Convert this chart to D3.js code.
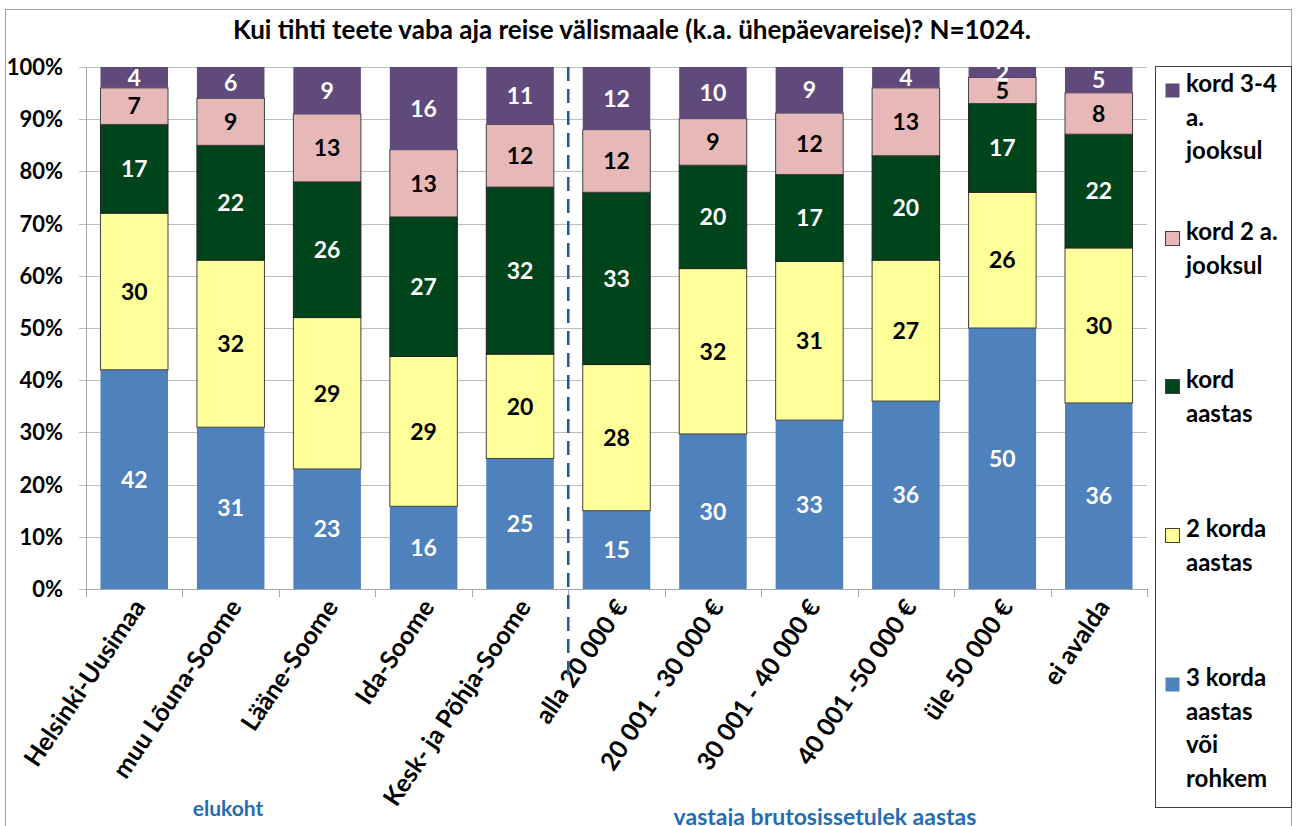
<!DOCTYPE html>
<html>
<head>
<meta charset="utf-8">
<script src="https://cdn.jsdelivr.net/npm/d3@7"></script>
<style>
  body { margin: 0; background: #fff; }
  text { font-family: Lato, "Open Sans", sans-serif; font-weight: bold; }
</style>
</head>
<body>
<div id="chart"></div>
<script>
// categories (x axis)
var categories = ["Helsinki-Uusimaa", "muu Lõuna-Soome", "Lääne-Soome", "Ida-Soome", "Kesk- ja Põhja-Soome",
  "alla 20 000 €", "20 001 - 30 000 €", "30 001 - 40 000 €", "40 001 -50 000 €", "üle 50 000 €", "ei avalda"];

// series, bottom to top
var seriesNames = ["3 korda aastas või rohkem", "2 korda aastas", "kord aastas", "kord 2 a. jooksul", "kord 3-4 a. jooksul"];
var kolmKorda = [42, 31, 23, 16, 25, 15, 30, 33, 36, 50, 36];
var kaksKorda = [30, 32, 29, 29, 20, 28, 32, 31, 27, 26, 30];
var kordAastas = [17, 22, 26, 27, 32, 33, 20, 17, 20, 17, 22];
var kord2a = [7, 9, 13, 13, 12, 12, 9, 12, 13, 5, 8];
var kord34a = [4, 6, 9, 16, 11, 12, 10, 9, 4, 2, 5];

var yTicks = [0, 0.1, 0.2, 0.3, 0.4, 0.5, 0.6, 0.7, 0.8, 0.9, 1];
var groupLabels = ["elukoht", "vastaja brutosissetulek aastas"];

var title = "Kui tihti teete vaba aja reise välismaale (k.a. ühepäevareise)? N=1024.";

var colors = ["#4F81BD", "#FFFF99", "#00441B", "#E6B9B8", "#604A7B"];
var strokes = ["none", "#404040", "#202020", "#404040", "none"];
var labelColors = ["#fff", "#000", "#fff", "#000", "#fff"];
var legendLines = [["kord 3-4", "a.", "jooksul"], ["kord 2 a.", "jooksul"], ["kord", "aastas"], ["2 korda", "aastas"], ["3 korda", "aastas", "või", "rohkem"]];

var svgWidth = 1297, svgHeight = 826;
var margin = {top: 67, right: 150, bottom: 237, left: 86};
var width = svgWidth - margin.left - margin.right;
var height = svgHeight - margin.top - margin.bottom;

var svg = d3.select("#chart").append("svg")
  .attr("width", svgWidth)
  .attr("height", svgHeight);

// outer border
svg.append("rect")
  .attr("x", 5.5).attr("y", 9.5)
  .attr("width", 1286).attr("height", 830)
  .attr("fill", "none")
  .attr("stroke", "#a0a0a0");

svg.append("text")
  .attr("x", 632).attr("y", 39)
  .attr("text-anchor", "middle")
  .style("font-size", "26px")
  .text(title);

var chartGroup = svg.append("g")
  .attr("transform", `translate(${margin.left}, ${margin.top})`);

// build rows
var seriesValues = [kolmKorda, kaksKorda, kordAastas, kord2a, kord34a];
var rows = categories.map(function(c, i) {
  var row = {cat: c};
  seriesValues.forEach(function(s, j) { row["s" + j] = s[i]; });
  return row;
});
var keys = seriesNames.map((d, j) => "s" + j);
var stacked = d3.stack().keys(keys).offset(d3.stackOffsetExpand)(rows);

var x = d3.scaleBand().domain(categories).range([0, width]).paddingInner(0.3).paddingOuter(0.15);
var y = d3.scaleLinear().domain([0, 1]).range([height, 0]);

// gridlines
chartGroup.append("g")
  .selectAll("line")
  .data(yTicks)
  .enter()
  .append("line")
  .attr("x1", -7).attr("x2", width)
  .attr("y1", d => Math.round(y(d)) + 0.5)
  .attr("y2", d => Math.round(y(d)) + 0.5)
  .attr("stroke", "#BFBFBF");

// y axis line
chartGroup.append("line")
  .attr("x1", 0.5).attr("x2", 0.5)
  .attr("y1", 0).attr("y2", height)
  .attr("stroke", "#A6A6A6");

// y tick labels
chartGroup.append("g")
  .selectAll("text")
  .data(yTicks)
  .enter()
  .append("text")
  .attr("x", -23)
  .attr("y", d => y(d))
  .attr("dy", "0.36em")
  .attr("text-anchor", "end")
  .style("font-size", "22px")
  .text(d3.format(".0%"));

// bars
var layers = chartGroup.selectAll(".layer")
  .data(stacked)
  .enter()
  .append("g")
  .attr("class", "layer");

layers.selectAll("rect")
  .data(d => d.map(v => ({v: v, k: d.index})))
  .enter()
  .append("rect")
  .attr("x", d => x(d.v.data.cat))
  .attr("y", d => y(d.v[1]))
  .attr("width", x.bandwidth())
  .attr("height", d => y(d.v[0]) - y(d.v[1]))
  .attr("fill", d => colors[d.k])
  .attr("stroke", d => strokes[d.k])
  .attr("stroke-width", 1);

// value labels
layers.selectAll("text")
  .data(d => d.map(v => ({v: v, k: d.index})))
  .enter()
  .append("text")
  .attr("x", d => x(d.v.data.cat) + x.bandwidth() / 2)
  .attr("y", d => y((d.v[0] + d.v[1]) / 2))
  .attr("dy", "0.36em")
  .attr("text-anchor", "middle")
  .attr("fill", d => labelColors[d.k])
  .style("font-size", "23px")
  .text(d => d.v.data["s" + d.k]);

// x axis line and ticks
chartGroup.append("line")
  .attr("x1", 0).attr("x2", width)
  .attr("y1", height + 0.5).attr("y2", height + 0.5)
  .attr("stroke", "#A6A6A6");

var step = x.step();
chartGroup.append("g")
  .selectAll("line")
  .data(d3.range(categories.length + 1))
  .enter()
  .append("line")
  .attr("x1", d => Math.round(d * step) + 0.5)
  .attr("x2", d => Math.round(d * step) + 0.5)
  .attr("y1", height).attr("y2", height + 8)
  .attr("stroke", "#A6A6A6");

// x labels, rotated
chartGroup.append("g")
  .selectAll("text")
  .data(categories)
  .enter()
  .append("text")
  .attr("transform", d => `translate(${x(d) + x.bandwidth() / 2 + 12}, ${height + 18}) rotate(-56)`)
  .attr("text-anchor", "end")
  .style("font-size", "25px")
  .text(d => d);

// dashed separator
chartGroup.append("line")
  .attr("x1", 5 * step).attr("x2", 5 * step)
  .attr("y1", 0).attr("y2", height + 92)
  .attr("stroke", "#1F5C99")
  .attr("stroke-width", 2.5)
  .attr("stroke-dasharray", "14,8");

// group labels
svg.append("text")
  .attr("x", 228).attr("y", 816)
  .attr("text-anchor", "middle")
  .attr("fill", "#1F6EB5")
  .style("font-size", "21px")
  .text(groupLabels[0]);

svg.append("text")
  .attr("x", 825).attr("y", 825)
  .attr("text-anchor", "middle")
  .attr("fill", "#1F6EB5")
  .style("font-size", "23px")
  .text(groupLabels[1]);

// legend
var legend = svg.append("g");
legend.append("rect")
  .attr("x", 1155.5).attr("y", 66.5)
  .attr("width", 136).attr("height", 741)
  .attr("fill", "#fff")
  .attr("stroke", "#404040");

var legendTop = [92, 240, 388, 537, 686];
var order = [4, 3, 2, 1, 0];
order.forEach(function(k, i) {
  var g = legend.append("g");
  g.append("rect")
    .attr("x", 1165.5).attr("y", legendTop[i] - 8.5)
    .attr("width", 14).attr("height", 14)
    .attr("fill", colors[k])
    .attr("stroke", strokes[k] == "none" ? "none" : "#404040");
  g.append("text")
    .attr("x", 1186)
    .attr("y", legendTop[i])
    .attr("dy", "0.36em")
    .style("font-size", "24px")
    .selectAll("tspan")
    .data(legendLines[i])
    .enter()
    .append("tspan")
    .attr("x", 1186)
    .attr("dy", (d, j) => j == 0 ? 0 : 33.5)
    .text(d => d);
});
</script>
</body>
</html>
